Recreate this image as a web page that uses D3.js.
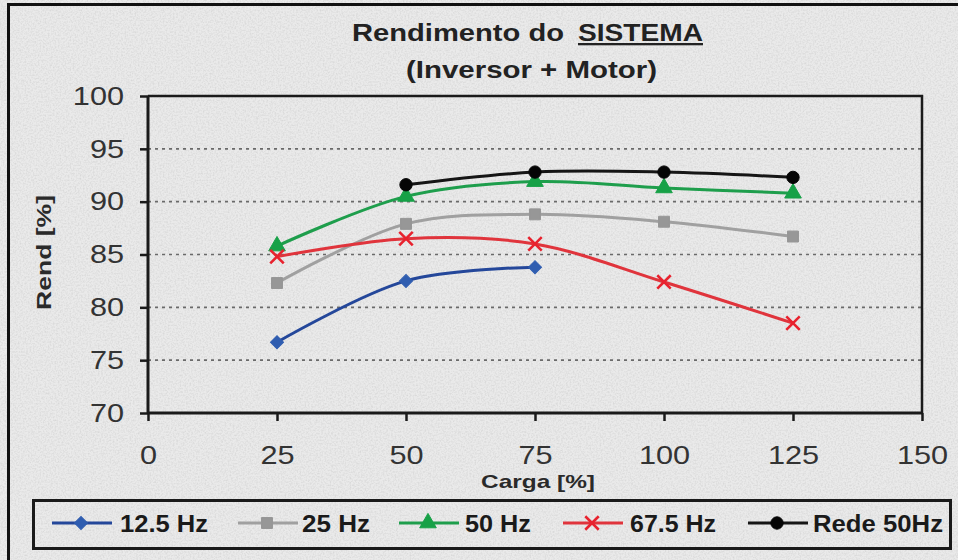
<!DOCTYPE html>
<html>
<head>
<meta charset="utf-8">
<script src="https://cdn.jsdelivr.net/npm/d3@7"></script>
<style>
  html, body { margin: 0; padding: 0; background: #ebebeb; }
  svg { display: block; }
  text { font-family: Arial, "Liberation Sans", sans-serif; }
</style>
</head>
<body>
<svg id="chart" width="958" height="560"></svg>
<script>
// Load points (% of rated load)
const carga = [25, 50, 75, 100, 125];

// System efficiency (%) per supply condition
const hz12_5 = [76.7, 82.5, 83.8, null, null];
const hz25   = [82.3, 87.9, 88.8, 88.1, 86.7];
const hz50   = [85.8, 90.5, 91.9, 91.3, 90.8];
const hz67_5 = [84.8, 86.5, 86.0, 82.4, 78.5];
const rede50 = [null, 91.6, 92.8, 92.8, 92.3];

const seriesNames = ["12.5 Hz", "25 Hz", "50 Hz", "67.5 Hz", "Rede 50Hz"];
const xTicks = [0, 25, 50, 75, 100, 125, 150];
const yTicks = [70, 75, 80, 85, 90, 95, 100];

const series = [
  { name: seriesNames[0], values: hz12_5, color: "#24479a", mark: "#2f5db0", symbol: "diamond" },
  { name: seriesNames[1], values: hz25,   color: "#a0a0a0", mark: "#979797", symbol: "square" },
  { name: seriesNames[2], values: hz50,   color: "#1e9e4c", mark: "#17a147", symbol: "triangle" },
  { name: seriesNames[3], values: hz67_5, color: "#e0343c", mark: "#e8222e", symbol: "times" },
  { name: seriesNames[4], values: rede50, color: "#151515", mark: "#050505", symbol: "circle" }
];

const svg = d3.select("#chart");
const W = 958, H = 560;
const plot = { left: 148, right: 922, top: 96, bottom: 413 };

// Background with a light granite-like texture
const defs = svg.append("defs");
const f = defs.append("filter").attr("id", "grain").attr("x", 0).attr("y", 0).attr("width", "100%").attr("height", "100%");
f.append("feTurbulence").attr("type", "fractalNoise").attr("baseFrequency", 0.6).attr("numOctaves", 2).attr("seed", 7).attr("result", "n");
f.append("feColorMatrix").attr("type", "matrix")
  .attr("values", "0 0 0 0 0.5  0 0 0 0 0.5  0 0 0 0 0.5  0 0 0 -1.7 1.05");

svg.append("rect").attr("width", W).attr("height", H).attr("fill", "#eaeaea");
svg.append("rect").attr("width", W).attr("height", H).attr("filter", "url(#grain)").attr("opacity", 0.45);

// Outer frame (top and left edges visible)
svg.append("path").attr("d", `M8.5,${H + 5} V4.5 H${W + 5}`)
  .attr("fill", "none").attr("stroke", "#111").attr("stroke-width", 3);

const x = d3.scaleLinear().domain([0, 150]).range([plot.left, plot.right]);
const y = d3.scaleLinear().domain([70, 100]).range([plot.bottom, plot.top]);

// Stretch a text element horizontally by a factor
function widen(sel, k) {
  sel.each(function () {
    const w = this.getComputedTextLength();
    d3.select(this).attr("textLength", w * k).attr("lengthAdjust", "spacingAndGlyphs");
  });
}
function fitTo(sel, w) {
  sel.attr("textLength", w).attr("lengthAdjust", "spacingAndGlyphs");
}

// Dotted gridlines
svg.append("g").selectAll("line")
  .data(yTicks.filter(t => t > 70 && t < 100))
  .join("line")
  .attr("x1", plot.left).attr("x2", plot.right)
  .attr("y1", d => y(d)).attr("y2", d => y(d))
  .attr("stroke", "#6a6a6a").attr("stroke-width", 1.6)
  .attr("stroke-dasharray", "3,4");

// Plot frame top and right
svg.append("path")
  .attr("d", `M${plot.left},${plot.top} H${plot.right} V${plot.bottom}`)
  .attr("fill", "none").attr("stroke", "#1a1a1a").attr("stroke-width", 2.5);

// Axes
const yAxis = svg.append("g").attr("transform", `translate(${plot.left},0)`)
  .call(d3.axisLeft(y).tickValues(yTicks).tickSize(8).tickPadding(16).tickFormat(d3.format("d")));
const xAxis = svg.append("g").attr("transform", `translate(0,${plot.bottom})`)
  .call(d3.axisBottom(x).tickValues(xTicks).tickSize(8).tickPadding(25).tickFormat(d3.format("d")));

[yAxis, xAxis].forEach(g => {
  g.select(".domain").attr("stroke", "#1a1a1a").attr("stroke-width", 3);
  g.selectAll(".tick line").attr("stroke", "#1a1a1a").attr("stroke-width", 2.5);
  g.selectAll(".tick text").attr("fill", "#333").attr("font-size", 26)
    .attr("font-family", "Arial, 'Liberation Sans', sans-serif");
});
yAxis.select(".domain").attr("d", `M0,${plot.top}V${plot.bottom}`);
xAxis.select(".domain").attr("d", `M${plot.left},0H${plot.right}`);
widen(yAxis.selectAll(".tick text"), 1.18);
widen(xAxis.selectAll(".tick text"), 1.18);

// Titles
const t1 = svg.append("text").attr("x", 352).attr("y", 41)
  .attr("font-size", 23).attr("font-weight", "bold").attr("fill", "#222")
  .text("Rendimento do");
fitTo(t1, 212);
const t1b = svg.append("text").attr("x", 578).attr("y", 41)
  .attr("font-size", 23).attr("font-weight", "bold").attr("fill", "#222")
  .attr("text-decoration", "underline")
  .text("SISTEMA");
fitTo(t1b, 125);
const t2 = svg.append("text").attr("x", 406).attr("y", 78)
  .attr("font-size", 23).attr("font-weight", "bold").attr("fill", "#222")
  .text("(Inversor + Motor)");
fitTo(t2, 251);

// Axis titles
const xt = svg.append("text").attr("x", 481).attr("y", 488)
  .attr("font-size", 19).attr("font-weight", "bold").attr("fill", "#2a2a2a")
  .text("Carga [%]");
fitTo(xt, 114);
const yt = svg.append("text")
  .attr("transform", `translate(51,310) rotate(-90)`)
  .attr("font-size", 20).attr("font-weight", "bold").attr("fill", "#2a2a2a")
  .text("Rend [%]");
fitTo(yt, 115);

// Series lines and markers
const line = d3.line()
  .defined(d => d.v != null)
  .x(d => x(d.c)).y(d => y(d.v))
  .curve(d3.curveCatmullRom.alpha(0.5));

const symbolTypes = {
  diamond: d3.symbolSquare,
  square: d3.symbolSquare,
  triangle: d3.symbolTriangle,
  times: d3.symbolTimes || d3.symbolX,
  circle: d3.symbolCircle
};
const symbolSize = { diamond: 85, square: 120, triangle: 120, times: 120, circle: 120 };

function drawMarker(g, s) {
  const p = d3.symbol().type(symbolTypes[s.symbol]).size(symbolSize[s.symbol])();
  const m = g.append("path").attr("d", p);
  if (s.symbol === "diamond") m.attr("transform", "rotate(45)");
  if (s.symbol === "times") {
    m.attr("fill", "none").attr("stroke", s.mark).attr("stroke-width", 2.6);
  } else {
    m.attr("fill", s.mark).attr("stroke", s.mark).attr("stroke-width", 1);
  }
  return m;
}

const plotG = svg.append("g");
series.forEach(s => {
  const pts = carga.map((c, i) => ({ c, v: s.values[i] }));
  plotG.append("path").datum(pts)
    .attr("d", line)
    .attr("fill", "none").attr("stroke", s.color).attr("stroke-width", 3)
    .attr("stroke-linejoin", "round");
  pts.filter(d => d.v != null).forEach(d => {
    const g = plotG.append("g").attr("transform", `translate(${x(d.c)},${y(d.v)})`);
    drawMarker(g, s);
  });
});

// Legend
svg.append("rect").attr("x", 33.5).attr("y", 500.5).attr("width", 917).attr("height", 48)
  .attr("fill", "none").attr("stroke", "#1a1a1a").attr("stroke-width", 3);

const legendLayout = [
  { lx: 52, tx: 120, tw: 88 },
  { lx: 238, tx: 302, tw: 68 },
  { lx: 399, tx: 465, tw: 66 },
  { lx: 563, tx: 630, tw: 86 },
  { lx: 748, tx: 813, tw: 130 }
];
series.forEach((s, i) => {
  const L = legendLayout[i];
  const g = svg.append("g");
  g.append("line").attr("x1", L.lx).attr("x2", L.lx + 60)
    .attr("y1", 523).attr("y2", 523)
    .attr("stroke", s.color).attr("stroke-width", 3);
  const mg = g.append("g").attr("transform", `translate(${L.lx + 29},523)`);
  drawMarker(mg, s);
  const t = g.append("text").attr("x", L.tx).attr("y", 532)
    .attr("font-size", 23).attr("font-weight", "bold").attr("fill", "#1a1a1a")
    .text(s.name);
  fitTo(t, L.tw);
});
</script>
</body>
</html>
